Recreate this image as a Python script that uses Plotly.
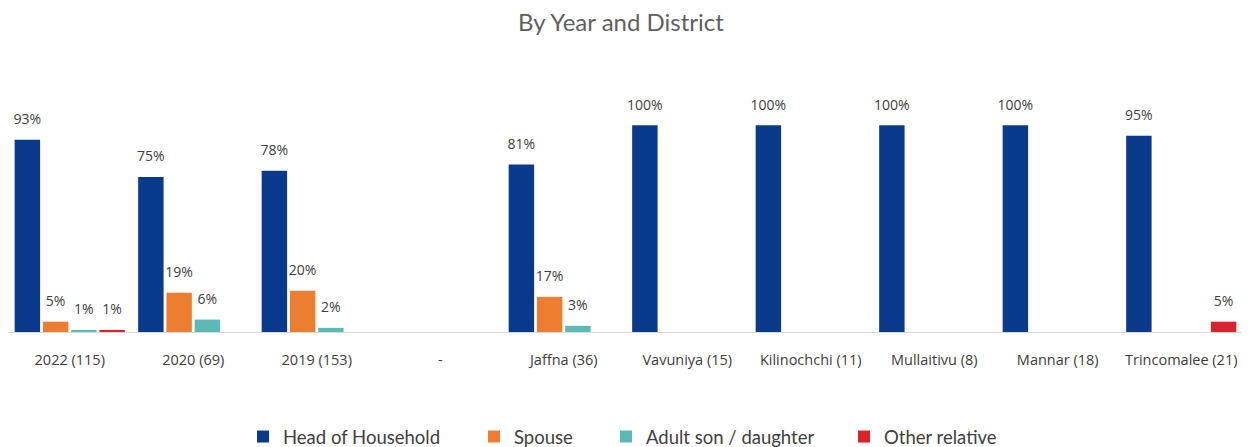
import plotly.graph_objects as go

categories = ["2022 (115)", "2020 (69)", "2019 (153)", "-", "Jaffna (36)", "Vavuniya (15)",
              "Kilinochchi (11)", "Mullaitivu (8)", "Mannar (18)", "Trincomalee (21)"]
series_names = ["Head of Household", "Spouse", "Adult son / daughter", "Other relative"]
head = [0.93, 0.75, 0.78, None, 0.81, 1.00, 1.00, 1.00, 1.00, 0.95]
spouse = [0.05, 0.19, 0.20, None, 0.17, None, None, None, None, None]
adult = [0.01, 0.06, 0.02, None, 0.03, None, None, None, None, None]
other = [0.01, None, None, None, None, None, None, None, None, 0.05]
colors = ["#0A3A8C", "#ED7D31", "#5BBAB4", "#D8232A"]

W, H = 1242, 439
legend_keys = ["legend", "legend2", "legend3", "legend4"]
legend_left_px = [250, 481, 613, 851]  # symbol left edges (layout only)

fig = go.Figure()
for i, (name, vals, col) in enumerate(zip(series_names, [head, spouse, adult, other], colors)):
    fig.add_trace(go.Bar(
        x=categories, y=vals, name=name, marker=dict(color=col, line=dict(width=0)),
        offsetgroup=str(i), alignmentgroup="a", legend=legend_keys[i],
    ))
for i, vals in enumerate([head, spouse, adult, other]):
    fig.add_trace(go.Scatter(
        x=categories, y=vals, mode="markers+text", showlegend=False, hoverinfo="skip",
        offsetgroup=str(i), alignmentgroup="a", cliponaxis=False,
        marker=dict(size=18, color="rgba(0,0,0,0)"),
        text=["" if v is None else f"{round(v*100)}%" for v in vals],
        textposition="top center",
        textfont=dict(family="Open Sans, sans-serif", size=14, color="#404040"),
    ))

layout_legends = {}
for key, px in zip(legend_keys, legend_left_px):
    layout_legends[key] = dict(
        orientation="h", xref="container", yref="container",
        x=(px - 15) / W, xanchor="left", y=1 - 429 / H, yanchor="middle",
        bgcolor="rgba(0,0,0,0)", borderwidth=0,
        font=dict(family="Lato, sans-serif", size=18.5, color="#404040"),
    )

fig.update_layout(
    width=W, height=H,
    margin=dict(l=0, r=7, t=76, b=115),
    paper_bgcolor="white", plot_bgcolor="white",
    barmode="group", bargap=0.085, bargroupgap=0.1,
    scattermode="group", scattergap=0.085,
    title=dict(text="By Year and District", x=613 / W, xanchor="center",
               y=1 - 15 / H, yanchor="middle",
               font=dict(family="Lato, sans-serif", size=24, color="#5f5f5f")),
    xaxis=dict(showline=True, linecolor="#D9D9D9", linewidth=1, showgrid=False,
               range=[-0.5, len(categories) - 0.5], autorange=False,
               tickfont=dict(family="Open Sans, sans-serif", size=14.5, color="#404040"),
               ticks="outside", ticklen=15, tickcolor="rgba(0,0,0,0)"),
    yaxis=dict(range=[0, 1.2], visible=False, showgrid=False),
    showlegend=True,
    **layout_legends,
)
fig.write_html("out.html")
